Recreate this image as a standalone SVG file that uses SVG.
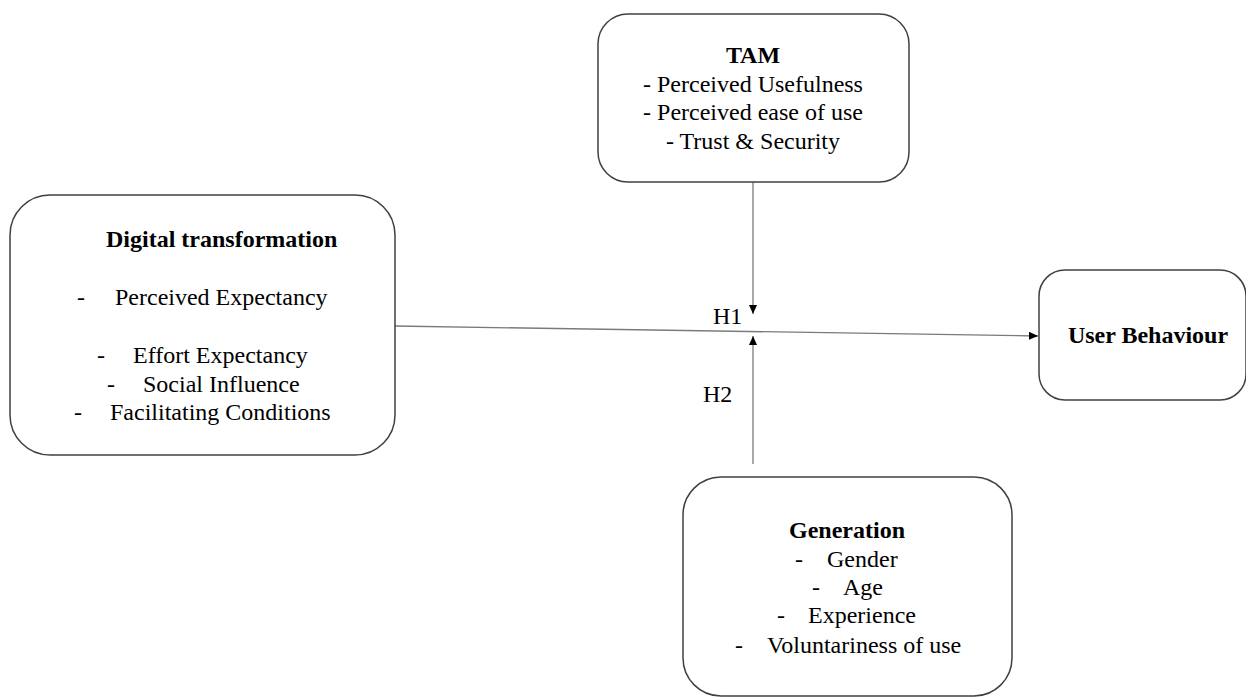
<svg xmlns="http://www.w3.org/2000/svg" width="1246" height="697" viewBox="0 0 1246 697">
<style>
.box{fill:#fff;stroke:#404040;stroke-width:1.5}
.t{font-family:"Liberation Serif","Times New Roman",serif;font-size:24px;fill:#000}
.b{font-weight:bold}
.c{text-anchor:middle}
.con{stroke:#7a7a7a;stroke-width:1.3;fill:none}
</style>
<defs>
<marker id="ah" markerUnits="userSpaceOnUse" markerWidth="10" markerHeight="10" viewBox="0 0 10 10" refX="9" refY="5" orient="auto">
<path d="M0,1 L9,5 L0,9 Z" fill="#000"/>
</marker>
</defs>
<rect width="1246" height="697" fill="#fff"/>
<g id="connectors">
<line class="con" x1="395" y1="326" x2="1038" y2="336" marker-end="url(#ah)"/>
<line class="con" x1="753" y1="182" x2="753" y2="314" marker-end="url(#ah)"/>
<line class="con" x1="753" y1="464" x2="753" y2="336" marker-end="url(#ah)"/>
<text class="t" x="713" y="324" font-size="23">H1</text>
<text class="t" x="703" y="402" font-size="23">H2</text>
</g>
<g id="digital">
<rect class="box" x="10" y="195" width="385" height="260" rx="40" ry="40"/>
<text class="t b" x="106" y="247">Digital transformation</text>
<text class="t" x="77" y="305">-</text><text class="t" x="115" y="305">Perceived Expectancy</text>
<text class="t" x="97" y="363">-</text><text class="t" x="133" y="363">Effort Expectancy</text>
<text class="t" x="107" y="392">-</text><text class="t" x="143" y="392">Social Influence</text>
<text class="t" x="74" y="420">-</text><text class="t" x="110" y="420">Facilitating Conditions</text>
</g>
<g id="tam">
<rect class="box" x="598" y="14" width="311" height="168" rx="30" ry="30"/>
<text class="t b c" x="753" y="63">TAM</text>
<text class="t c" x="753" y="92">- Perceived Usefulness</text>
<text class="t c" x="753" y="120">- Perceived ease of use</text>
<text class="t c" x="753" y="149">- Trust &amp; Security</text>
</g>
<g id="user">
<rect class="box" x="1039" y="270" width="207" height="130" rx="26" ry="26"/>
<text class="t b c" x="1148" y="343">User Behaviour</text>
</g>
<g id="generation">
<rect class="box" x="683" y="477" width="329" height="219" rx="38" ry="38"/>
<text class="t b c" x="847" y="538">Generation</text>
<text class="t" x="795" y="567">-</text><text class="t" x="827" y="567">Gender</text>
<text class="t" x="812" y="595">-</text><text class="t" x="843" y="595">Age</text>
<text class="t" x="777" y="623">-</text><text class="t" x="808" y="623">Experience</text>
<text class="t" x="735" y="653">-</text><text class="t" x="767" y="653">Voluntariness of use</text>
</g>
</svg>
